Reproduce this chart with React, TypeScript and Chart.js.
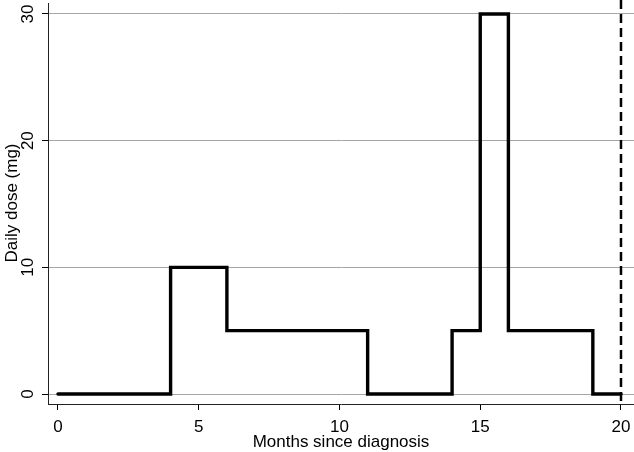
import React, { useEffect, useRef } from "react";
import { Chart, registerables } from "chart.js";

Chart.register(...registerables);

const months = [0, 4, 6, 11, 14, 15, 16, 19, 20];
const doses = [0, 10, 5, 0, 5, 30, 5, 0, 0];
const xTicks = [0, 5, 10, 15, 20];
const yTicks = [0, 10, 20, 30];
const endMonth = 20;
const xTitle = "Months since diagnosis";
const yTitle = "Daily dose (mg)";

const FONT = "17px 'Liberation Sans', Arial, sans-serif";

const customPlugin = {
  id: "stataDecor",
  afterDatasetsDraw(chart: any) {
    const { ctx, chartArea, scales } = chart;
    const xs = scales.x;
    const ys = scales.y;
    ctx.save();
    // dashed vertical line
    const px = xs.getPixelForValue(endMonth);
    ctx.strokeStyle = "#000";
    ctx.lineWidth = 2.5;
    ctx.setLineDash([9, 5]);
    ctx.beginPath();
    ctx.moveTo(px, 0);
    ctx.lineTo(px, chartArea.bottom);
    ctx.stroke();
    ctx.setLineDash([]);

    ctx.fillStyle = "#000";
    ctx.font = FONT;
    // x tick labels
    ctx.textAlign = "center";
    ctx.textBaseline = "alphabetic";
    xTicks.forEach((v) => {
      ctx.fillText(String(v), xs.getPixelForValue(v), 431.5);
    });
    // x title
    ctx.fillText(xTitle, (chartArea.left + chartArea.right) / 2, 447);
    // y tick labels rotated
    yTicks.forEach((v) => {
      ctx.save();
      ctx.translate(33, ys.getPixelForValue(v));
      ctx.rotate(-Math.PI / 2);
      ctx.fillText(String(v), 0, 0);
      ctx.restore();
    });
    // y title
    ctx.save();
    ctx.translate(16.5, 203);
    ctx.rotate(-Math.PI / 2);
    ctx.fillText(yTitle, 0, 0);
    ctx.restore();
    ctx.restore();
  },
};

export default function App() {
  const ref = useRef<HTMLCanvasElement | null>(null);
  useEffect(() => {
    if (!ref.current) return;
    const chart = new Chart(ref.current, {
      type: "line",
      data: {
        datasets: [
          {
            data: months.map((m, i) => ({ x: m, y: doses[i] })),
            stepped: "before",
            borderColor: "#000",
            borderWidth: 3.4,
            borderJoinStyle: "miter",
            borderCapStyle: "round",
            pointRadius: 0,
            fill: false,
          },
        ],
      },
      options: {
        animation: false,
        responsive: false,
        maintainAspectRatio: false,
        layout: { padding: { top: 3, right: 0, left: 0, bottom: 0 } },
        plugins: { legend: { display: false }, tooltip: { enabled: false } },
        scales: {
          x: {
            type: "linear",
            min: -0.355,
            max: 20.462,
            afterBuildTicks: (s: any) => {
              s.ticks = xTicks.map((v) => ({ value: v }));
            },
            afterFit: (s: any) => {
              s.height = 48;
            },
            ticks: { display: false },
            grid: {
              drawOnChartArea: false,
              drawTicks: true,
              tickLength: 6,
              tickColor: "#000",
              tickWidth: 1,
            },
            border: { display: true, color: "#222", width: 1 },
          },
          y: {
            type: "linear",
            min: -0.789,
            max: 30.868,
            afterBuildTicks: (s: any) => {
              s.ticks = yTicks.map((v) => ({ value: v }));
            },
            afterFit: (s: any) => {
              s.width = 48;
            },
            ticks: { display: false },
            grid: {
              drawOnChartArea: true,
              drawTicks: true,
              tickLength: 6,
              color: "#a6a6a6",
              lineWidth: 1,
              tickColor: "#000",
              tickWidth: 1,
            },
            border: { display: true, color: "#222", width: 1 },
          },
        },
      },
      plugins: [customPlugin],
    } as any);
    return () => chart.destroy();
  }, []);
  return (
    <div style={{ position: "fixed", left: 0, top: 0, width: 634, height: 452, background: "#fff" }}>
      <canvas ref={ref} width={634} height={452} style={{ width: 634, height: 452 }} />
    </div>
  );
}
